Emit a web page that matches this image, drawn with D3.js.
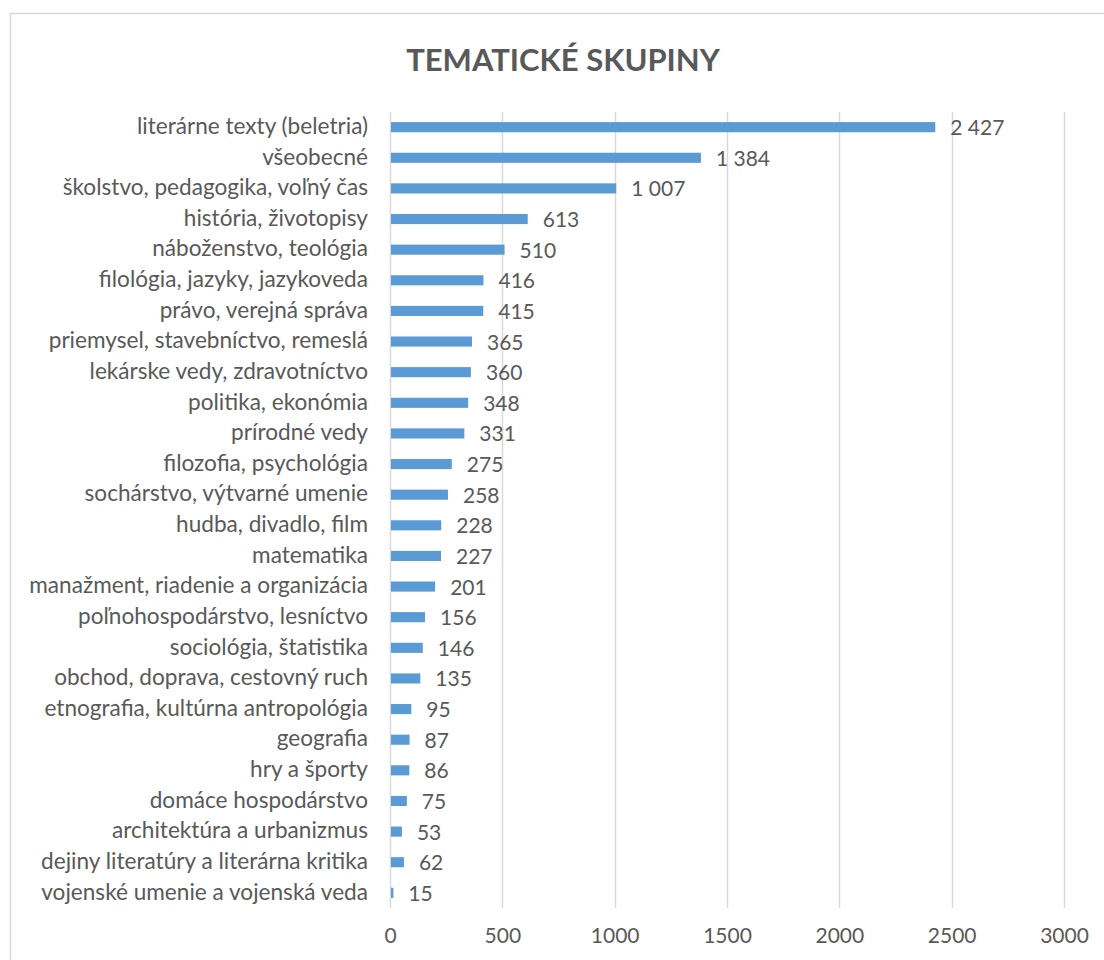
<!DOCTYPE html>
<html>
<head>
<meta charset="utf-8">
<script src="https://cdn.jsdelivr.net/npm/d3@7"></script>
<style>
body { margin:0; background:#fff; }
text { font-family: Lato, sans-serif; fill:#595959; }
</style>
</head>
<body>
<svg id="chart"></svg>
<script>
var categories = ["literárne texty (beletria)","všeobecné","školstvo, pedagogika, voľný čas",
    "história, životopisy","náboženstvo, teológia","filológia, jazyky, jazykoveda",
    "právo, verejná správa","priemysel, stavebníctvo, remeslá","lekárske vedy, zdravotníctvo",
    "politika, ekonómia","prírodné vedy","filozofia, psychológia","sochárstvo, výtvarné umenie",
    "hudba, divadlo, film","matematika","manažment, riadenie a organizácia",
    "poľnohospodárstvo, lesníctvo","sociológia, štatistika","obchod, doprava, cestovný ruch",
    "etnografia, kultúrna antropológia","geografia","hry a športy","domáce hospodárstvo",
    "architektúra a urbanizmus","dejiny literatúry a literárna kritika",
    "vojenské umenie a vojenská veda"]
var counts = [2427,1384,1007,613,510,416,415,365,360,348,331,275,258,228,227,201,156,146,135,95,87,86,75,53,62,15]
var xTicks = [0,500,1000,1500,2000,2500,3000]
var title = "TEMATICKÉ SKUPINY"

var screen = {width:1104, height:960}
var margins = {top:112, left:390, right:40}
var graph = {width:1064-390, height:908-112}

var svg = d3.select("#chart")
    .attr("width",screen.width)
    .attr("height",screen.height)

// chart frame
svg.append("rect")
    .attr("x",10.5).attr("y",13.5)
    .attr("width",1200).attr("height",1200)
    .attr("fill","none")
    .attr("stroke","#d9d9d9")
    .attr("stroke-width",1.5)

var xScale = d3.scaleLinear().domain([0,3000]).range([0,graph.width])
var yScale = d3.scaleBand().domain(categories).range([0,graph.height]).paddingInner(0.67).paddingOuter(0.33)

var g = svg.append("g")
    .attr("transform","translate("+margins.left+","+margins.top+")")

// gridlines
g.append("g").selectAll("line")
    .data(xTicks)
    .enter().append("line")
    .attr("x1",function(d){ return Math.round(xScale(d))+0.5 })
    .attr("x2",function(d){ return Math.round(xScale(d))+0.5 })
    .attr("y1",0).attr("y2",graph.height)
    .attr("stroke","#d9d9d9")
    .attr("stroke-width",1.5)

// bars
g.append("g").selectAll("rect")
    .data(counts)
    .enter().append("rect")
    .attr("x",1)
    .attr("y",function(d,i){ return yScale(categories[i]) })
    .attr("width",function(d){ return xScale(d)-1 })
    .attr("height",yScale.bandwidth())
    .attr("fill","#5b9bd5")

// value labels
var fmt = function(v){ return d3.format(",")(v).replace(/,/g," ") }
g.append("g").selectAll("text")
    .data(counts)
    .enter().append("text")
    .attr("x",function(d){ return xScale(d)+15 })
    .attr("y",function(d,i){ return yScale(categories[i])+yScale.bandwidth()/2 })
    .attr("dy","0.38em")
    .attr("font-size",21)
    .text(fmt)

// y axis (category labels)
var yAxis = d3.axisLeft(yScale).tickSize(0).tickPadding(22)
var ya = g.append("g").call(yAxis)
ya.select(".domain").remove()
ya.selectAll("text")
    .attr("font-size",22.6)
    .attr("dy","0.3em")
    .style("font-family","Lato, sans-serif")
    .attr("fill","#595959")

// x axis
var xAxis = d3.axisBottom(xScale).tickValues(xTicks).tickSize(0).tickPadding(20).tickFormat(d3.format("d"))
var xa = g.append("g").attr("transform","translate(0,"+graph.height+")").call(xAxis)
xa.select(".domain").remove()
xa.selectAll("text")
    .attr("font-size",21)
    .style("font-family","Lato, sans-serif")
    .attr("fill","#595959")

// title
svg.append("text")
    .attr("x",563).attr("y",71)
    .attr("text-anchor","middle")
    .attr("font-size",31)
    .attr("font-weight","bold")
    .text(title)
</script>
</body>
</html>
